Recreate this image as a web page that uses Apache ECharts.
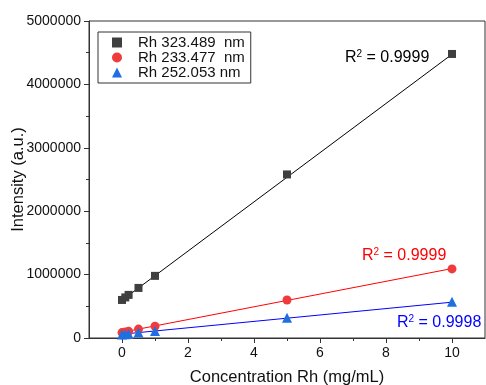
<!DOCTYPE html>
<html>
<head>
<meta charset="utf-8">
<script src="https://cdn.jsdelivr.net/npm/echarts@6/dist/echarts.min.js"></script>
<style>
  html, body { margin: 0; padding: 0; background: #fff; }
  #chart { width: 486px; height: 385px; }
</style>
</head>
<body>
<div id="chart"></div>
<script>
// concentrations (mg/mL)
const conc = [0, 0.1, 0.2, 0.5, 1, 5, 10];
// measured intensities
const rh323 = [600000, 640000, 680000, 790000, 980000, 2580000, 4480000];
const rh233 = [85000, 95000, 105000, 140000, 185000, 600000, 1090000];
const rh252 = [55000, 60000, 65000, 85000, 110000, 320000, 570000];
// fitted line ends
const fitX = [0, 10];
const fit323 = [595000, 4475000];
const fit233 = [90000, 1095000];
const fit252 = [60000, 565000];
const xMajor = [0, 2, 4, 6, 8, 10];
const xMinor = [1, 3, 5, 7, 9];
const names = ['Rh 323.489  nm', 'Rh 233.477  nm', 'Rh 252.053 nm'];
const r2 = ['0.9999', '0.9999', '0.9998'];

const font = 'Arial, "Liberation Sans", sans-serif';
const axisColor = '#333';

const chart = echarts.init(document.getElementById('chart'));

const pairs = (xs, ys) => xs.map((x, i) => [x, ys[i]]);

const r2Label = (text, color, left, top) => ({
  type: 'text',
  left: left,
  top: top,
  style: {
    text: '{a|R}{s|2}{a| = ' + text + '}',
    rich: {
      a: { fontSize: 16, fontFamily: font, fill: color, color: color },
      s: { fontSize: 10, fontFamily: font, fill: color, color: color, padding: [0, 0, 8, 0] }
    }
  }
});

chart.setOption({
  animation: false,
  textStyle: { fontFamily: font },
  grid: {
    left: 89, right: 1, top: 21, bottom: 47,
    outerBoundsMode: 'none',
    containLabel: false,
    show: true, borderColor: axisColor, borderWidth: 1
  },
  legend: {
    data: names,
    orient: 'vertical',
    left: 98,
    top: 32,
    padding: [3, 6, 3, 14],
    itemGap: 0,
    itemWidth: 10,
    itemHeight: 10,
    borderColor: '#333',
    borderWidth: 1,
    borderRadius: 0,
    textStyle: { fontSize: 15, color: '#111', fontFamily: font, padding: [0, 0, 0, 11] }
  },
  xAxis: [
    {
      type: 'value',
      min: -1,
      max: 11,
      name: 'Concentration Rh (mg/mL)',
      nameLocation: 'middle',
      nameGap: 31,
      nameMoveOverlap: false,
      nameTextStyle: { fontSize: 16.5, color: '#111' },
      axisLine: { onZero: false, lineStyle: { color: axisColor } },
      axisTick: { show: true, length: 5, customValues: xMajor, lineStyle: { color: axisColor } },
      axisLabel: { customValues: xMajor, fontSize: 14, color: '#111', margin: 8 },
      splitLine: { show: false }
    },
    {
      type: 'value',
      min: -1,
      max: 11,
      position: 'bottom',
      axisLine: { show: false, onZero: false },
      axisTick: { show: true, length: 3, customValues: xMinor, lineStyle: { color: axisColor } },
      axisLabel: { show: false },
      splitLine: { show: false }
    }
  ],
  yAxis: {
    type: 'value',
    min: 0,
    max: 5000000,
    interval: 1000000,
    name: 'Intensity (a.u.)',
    nameLocation: 'middle',
    nameGap: 62,
    nameMoveOverlap: false,
    nameTextStyle: { fontSize: 16.5, color: '#111' },
    axisLine: { show: true, onZero: false, lineStyle: { color: axisColor } },
    axisTick: { show: true, length: 5, lineStyle: { color: axisColor } },
    minorTick: { show: true, splitNumber: 2, length: 3, lineStyle: { color: axisColor } },
    axisLabel: { fontSize: 14, color: '#111', margin: 8, formatter: (v) => String(v) },
    splitLine: { show: false }
  },
  series: [
    {
      type: 'line', data: pairs(fitX, fit323), symbol: 'none', silent: true,
      lineStyle: { color: '#000', width: 1 }, z: 1
    },
    {
      type: 'line', data: pairs(fitX, fit233), symbol: 'none', silent: true,
      lineStyle: { color: '#ff0000', width: 1 }, z: 1
    },
    {
      type: 'line', data: pairs(fitX, fit252), symbol: 'none', silent: true,
      lineStyle: { color: '#0000ff', width: 1 }, z: 1
    },
    {
      name: names[0], type: 'scatter', symbol: 'rect', symbolSize: 8,
      itemStyle: { color: '#3f3f3f', opacity: 1 }, data: pairs(conc, rh323), z: 2
    },
    {
      name: names[1], type: 'scatter', symbol: 'circle', symbolSize: 9,
      itemStyle: { color: '#ef3b3b', opacity: 1 }, data: pairs(conc, rh233), z: 2
    },
    {
      name: names[2], type: 'scatter', symbol: 'triangle', symbolSize: 10,
      itemStyle: { color: '#1f6fe0', opacity: 1 }, data: pairs(conc, rh252), z: 2
    }
  ],
  graphic: [
    r2Label(r2[0], '#000', 345, 49),
    r2Label(r2[1], '#ff0000', 362, 247),
    r2Label(r2[2], '#0000ff', 397, 314)
  ]
});
</script>
</body>
</html>
